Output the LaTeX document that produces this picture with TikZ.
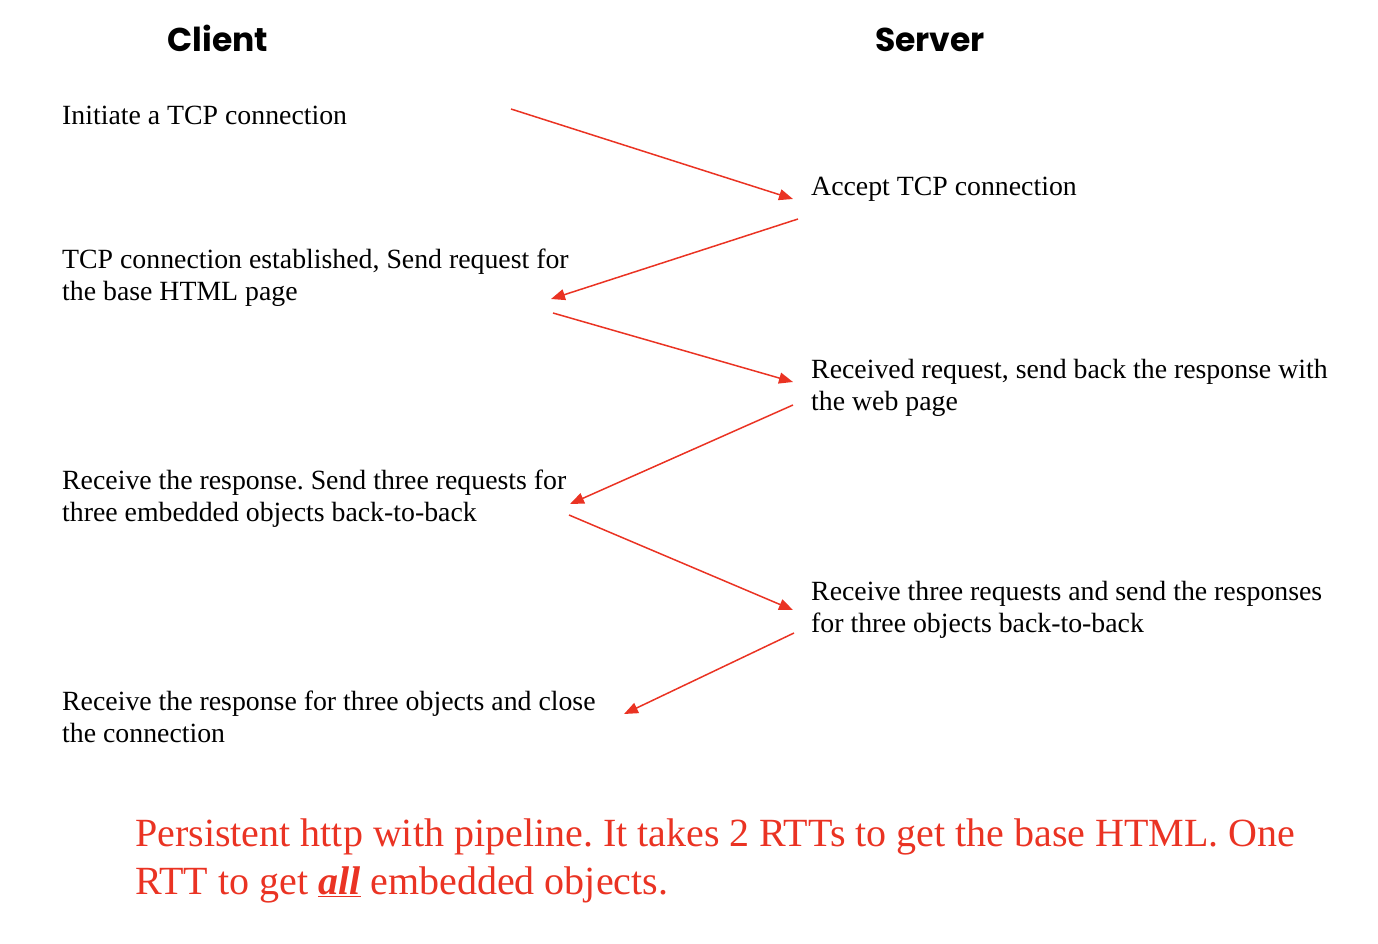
\documentclass[tikz,border=0pt]{standalone}
\usepackage{fontspec}
\setmainfont{Liberation Serif}
\newfontfamily\headfont{Poppins}
\usetikzlibrary{arrows.meta}
\definecolor{arrred}{RGB}{234,51,35}
\frenchspacing
\tikzset{
  head/.style={font=\headfont\bfseries\fontsize{33}{36}\selectfont, inner sep=0pt, anchor=base},
  txt/.style={font=\fontsize{27.8}{32}\selectfont, inner sep=0pt, anchor=base west, align=left},
  msg/.style={draw=arrred, line width=1.5pt, -{Triangle[length=14pt,width=11pt]}},
  note/.style={font=\fontsize{40}{48}\selectfont, text=arrred, inner sep=0pt, anchor=base west, align=left}
}
\begin{document}
\frenchspacing
\begin{tikzpicture}[x=1pt,y=-1pt]
\useasboundingbox (0,0) rectangle (1378,944);
\node[head] (client) at (218,52) {Client};
\node[head] (server) at (930,52) {Server};

\node[txt] (t1) at (62,125) {Initiate a TCP connection};
\node[txt] (s1) at (811,196) {Accept TCP connection};
\node[txt] (t2) at (62,268) {TCP connection established, Send request for};
\node[txt] (t2b) at (62,300) {the base HTML page};
\node[txt] (s2) at (811,378) {Received request, send back the response with};
\node[txt] (s2b) at (811,410) {the web page};
\node[txt] (t3) at (62,489) {Receive the response. Send three requests for};
\node[txt] (t3b) at (62,521) {three embedded objects back-to-back};
\node[txt] (s3) at (811,600) {Receive three requests and send the responses};
\node[txt] (s3b) at (811,632) {for three objects back-to-back};
\node[txt] (t4) at (62,710) {Receive the response for three objects and close};
\node[txt] (t4b) at (62,742) {the connection};

\coordinate (a1s) at (511,109); \coordinate (a1e) at (793,199);
\coordinate (a2s) at (798,219); \coordinate (a2e) at (551,299);
\coordinate (a3s) at (553,313); \coordinate (a3e) at (793,382);
\coordinate (a4s) at (793,405); \coordinate (a4e) at (570,504);
\coordinate (a5s) at (569,515); \coordinate (a5e) at (793,610);
\coordinate (a6s) at (794,633); \coordinate (a6e) at (624,714);
\draw[msg] (a1s) -- (a1e);
\draw[msg] (a2s) -- (a2e);
\draw[msg] (a3s) -- (a3e);
\draw[msg] (a4s) -- (a4e);
\draw[msg] (a5s) -- (a5e);
\draw[msg] (a6s) -- (a6e);

\node[note] (n1) at (135,846) {Persistent http with pipeline. It takes 2 RTTs to get the base HTML. One};
\node[note] (n2) at (135,894) {RTT to get \textbf{\textit{\underline{all}}} embedded objects.};
\end{tikzpicture}
\end{document}
